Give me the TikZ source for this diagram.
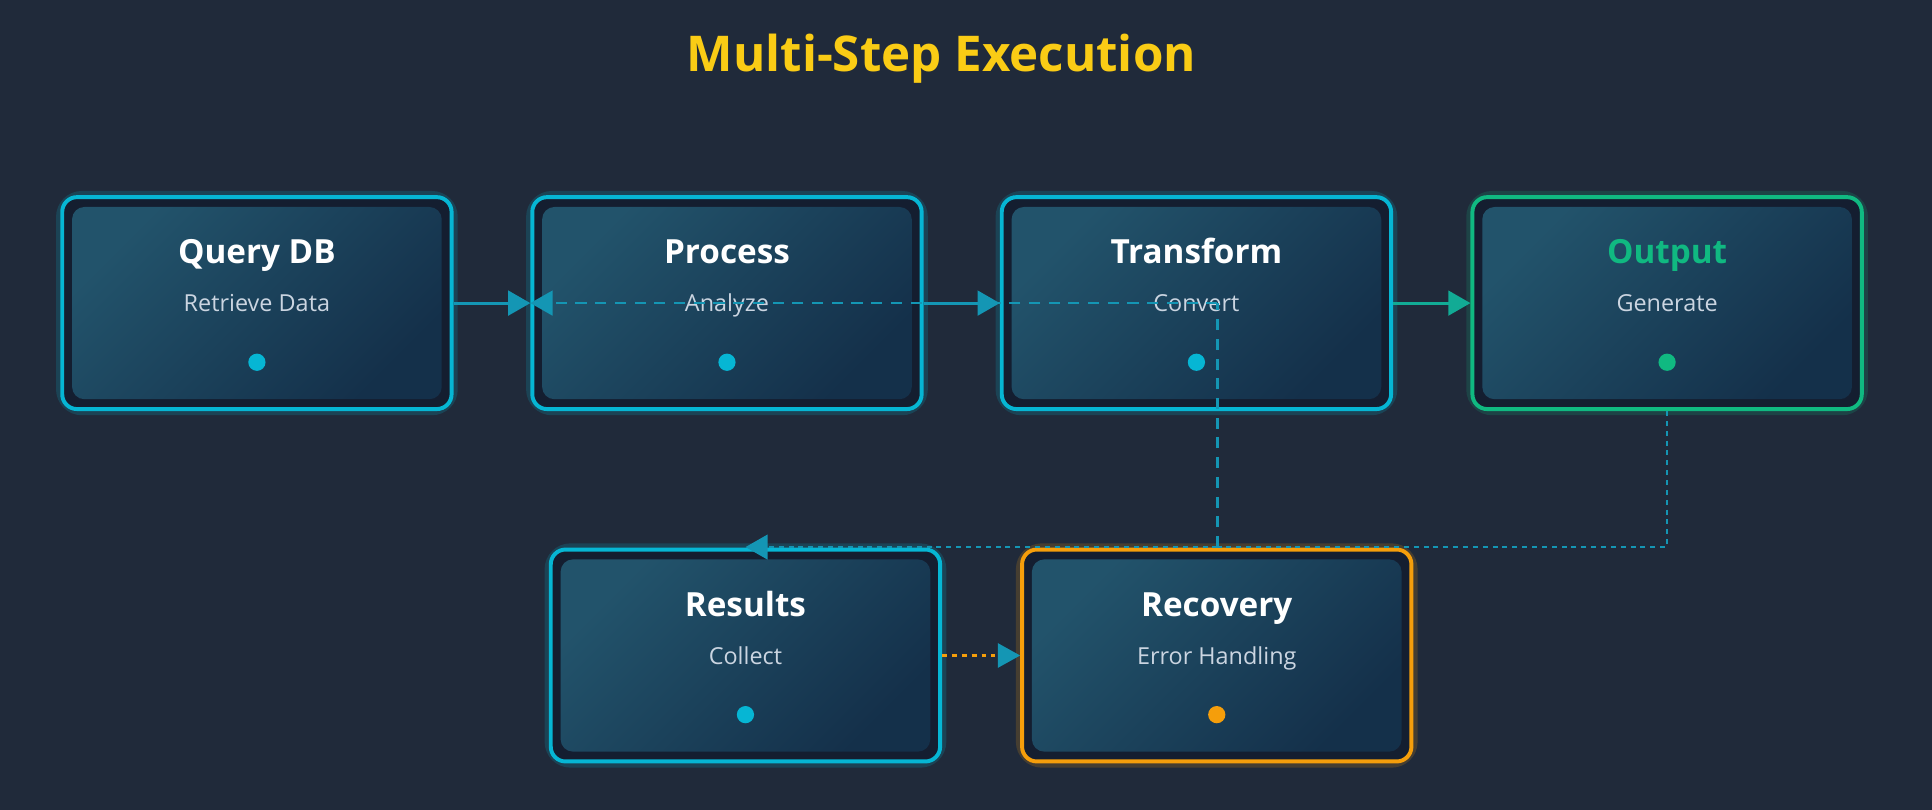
\documentclass[tikz,border=0pt]{standalone}
\usepackage{fontspec}
\setmainfont{Open Sans}
\usetikzlibrary{arrows.meta}
\definecolor{bg}{HTML}{202A3A}
\definecolor{cy}{HTML}{06B6D4}
\definecolor{gr}{HTML}{10B981}
\definecolor{org}{HTML}{F59E0B}
\definecolor{ttl}{HTML}{FACC15}
\definecolor{sub}{HTML}{CBD5E1}
\definecolor{inA}{HTML}{22536B}
\definecolor{inB}{HTML}{14304A}
\definecolor{outer}{HTML}{141E30}
\definecolor{ln}{HTML}{1496B4}
\begin{document}
\begin{tikzpicture}[x=0.5pt,y=-0.5pt,
 box/.style={draw=#1,line width=1.6pt,rounded corners=6pt,fill=outer,minimum width=158pt,minimum height=86pt,inner sep=0pt},
 glow/.style={draw=#1,rounded corners=8pt,line width=5pt,draw opacity=0.18,minimum width=158pt,minimum height=86pt},
 inner/.style={rounded corners=5pt,left color=inA,right color=inB,shading angle=45,minimum width=150pt,minimum height=78pt},
 ttl/.style={font=\bfseries\fontsize{13.5}{15}\selectfont,text=white,anchor=base},
 sub/.style={font=\fontsize{9.5}{11}\selectfont,text=sub,anchor=base},
 arr/.style={-{Triangle[length=9pt,width=10pt]},color=ln,line width=1.2pt},
 dashln/.style={dash pattern=on 4.5pt off 3.5pt},
 dotln/.style={dash pattern=on 2pt off 2pt}]
\fill[bg] (0,0) rectangle (1568,657);
\useasboundingbox (0,0) rectangle (1568,657);
\node[font=\bfseries\fontsize{20}{24}\selectfont,text=ttl] (title) at (764,48) {Multi-Step Execution};
\newcommand{\mybox}[7]{%
 \node[glow=#4] at (#2,#3) {};
 \node[box=#4] (#1) at (#2,#3) {};
 \node[inner] at (#2,#3) {};
 \node[ttl,text=#7] (#1t) at (#2,#3-32) {#5};
 \node[sub] (#1s) at (#2,#3+7) {#6};
 \fill[#4] (#2,#3+48) circle (3.5pt);}
\mybox{q}{208.5}{246}{cy}{Query DB}{Retrieve Data}{white}
\mybox{p}{590}{246}{cy}{Process}{Analyze}{white}
\mybox{t}{971}{246}{cy}{Transform}{Convert}{white}
\mybox{o}{1353}{246}{gr}{Output}{Generate}{gr}
\mybox{r}{605}{532}{cy}{Results}{Collect}{white}
\mybox{e}{987.5}{532}{org}{Recovery}{Error Handling}{white}
\coordinate (tj) at (988,444);
\coordinate (tu) at (988,246);
\coordinate (oj) at (1353,444);
\coordinate (ra) at (605,444);
\coordinate (ea) at ([xshift=-10pt]e.west);
\draw[arr] (q.east) -- (p.west);
\draw[arr] (p.east) -- (t.west);
\draw[arr,color=gr!60!ln] (t.east) -- (o.west);
\draw[ln,line width=1pt,dashln] (tj) -- (tu);
\draw[arr,line width=1pt,dashln] (tu) -- (p.west);
\draw[ln,line width=1pt,dotln] (o.south) -- (oj) -- (tj);
\draw[arr,line width=1pt,dotln] (tj) -- (ra);
\draw[org,line width=1.2pt,dotln] (r.east) -- (ea);
\fill[ln] (e.west) -- ++(-18,-10) -- ++(0,20) -- cycle;
\end{tikzpicture}
\end{document}
